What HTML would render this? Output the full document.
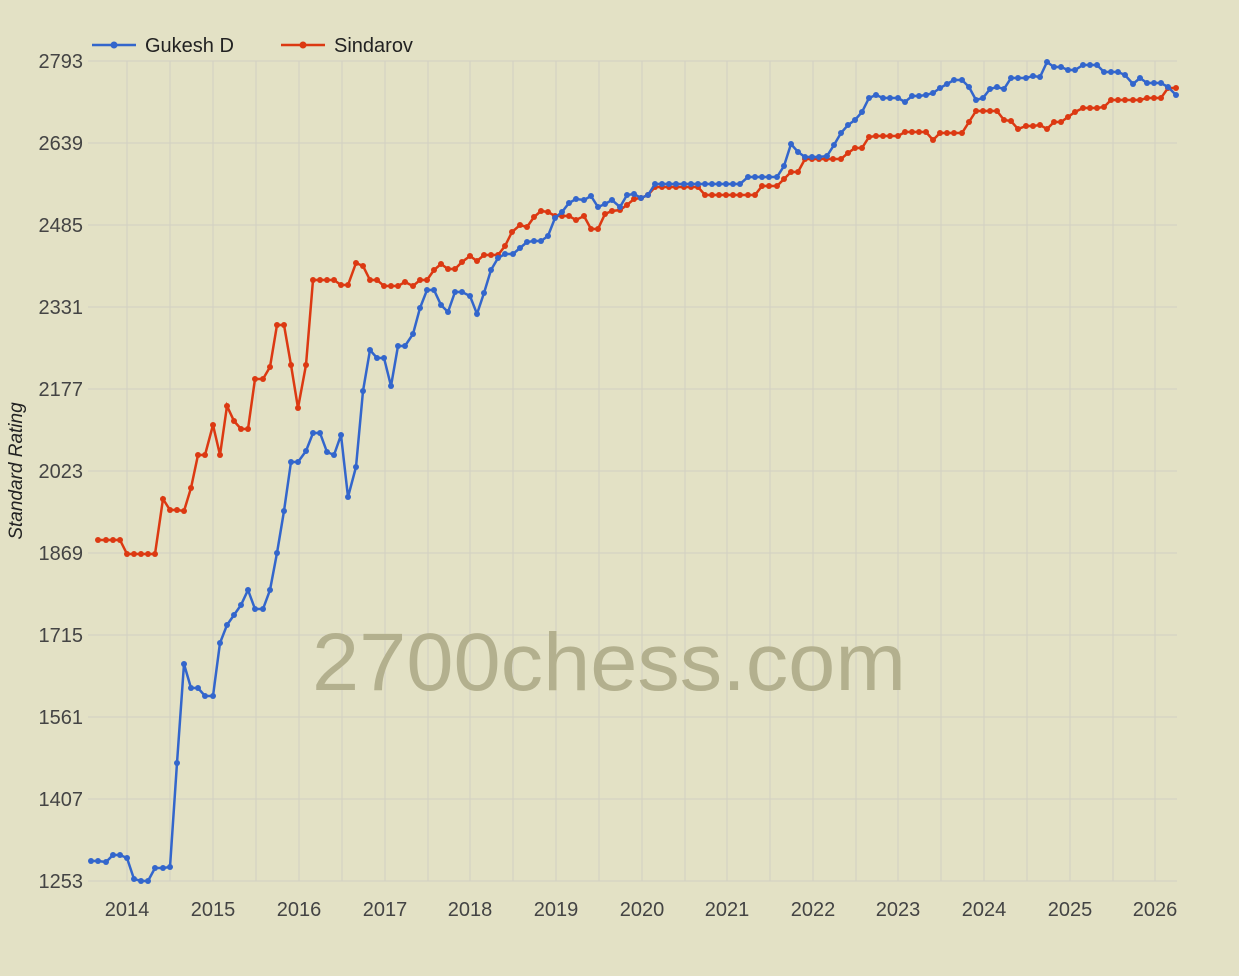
<!DOCTYPE html>
<html><head><style>
html,body{margin:0;padding:0;background:#e3e1c5;}
svg{display:block;font-family:"Liberation Sans",sans-serif;}
</style></head><body>
<svg width="1239" height="976" viewBox="0 0 1239 976">
<rect width="1239" height="976" fill="#e3e1c5"/>
<defs>
<marker id="mb" markerWidth="6" markerHeight="6" refX="3" refY="3" markerUnits="userSpaceOnUse"><circle cx="3" cy="3" r="3" fill="#3366cc"/></marker>
<marker id="mr" markerWidth="6" markerHeight="6" refX="3" refY="3" markerUnits="userSpaceOnUse"><circle cx="3" cy="3" r="3" fill="#dc3912"/></marker>
</defs>
<g stroke="#d2d0c2" stroke-width="1">
<line x1="88" y1="61" x2="1177" y2="61"/><line x1="88" y1="143" x2="1177" y2="143"/><line x1="88" y1="225" x2="1177" y2="225"/><line x1="88" y1="307" x2="1177" y2="307"/><line x1="88" y1="389" x2="1177" y2="389"/><line x1="88" y1="471" x2="1177" y2="471"/><line x1="88" y1="553" x2="1177" y2="553"/><line x1="88" y1="635" x2="1177" y2="635"/><line x1="88" y1="717" x2="1177" y2="717"/><line x1="88" y1="799" x2="1177" y2="799"/><line x1="88" y1="881" x2="1177" y2="881"/>
<line x1="127" y1="61" x2="127" y2="881"/><line x1="170" y1="61" x2="170" y2="881"/><line x1="213" y1="61" x2="213" y2="881"/><line x1="256" y1="61" x2="256" y2="881"/><line x1="299" y1="61" x2="299" y2="881"/><line x1="342" y1="61" x2="342" y2="881"/><line x1="385" y1="61" x2="385" y2="881"/><line x1="428" y1="61" x2="428" y2="881"/><line x1="470" y1="61" x2="470" y2="881"/><line x1="513" y1="61" x2="513" y2="881"/><line x1="556" y1="61" x2="556" y2="881"/><line x1="599" y1="61" x2="599" y2="881"/><line x1="642" y1="61" x2="642" y2="881"/><line x1="685" y1="61" x2="685" y2="881"/><line x1="727" y1="61" x2="727" y2="881"/><line x1="770" y1="61" x2="770" y2="881"/><line x1="813" y1="61" x2="813" y2="881"/><line x1="856" y1="61" x2="856" y2="881"/><line x1="898" y1="61" x2="898" y2="881"/><line x1="941" y1="61" x2="941" y2="881"/><line x1="984" y1="61" x2="984" y2="881"/><line x1="1027" y1="61" x2="1027" y2="881"/><line x1="1070" y1="61" x2="1070" y2="881"/><line x1="1113" y1="61" x2="1113" y2="881"/><line x1="1155" y1="61" x2="1155" y2="881"/>
</g>
<text x="312" y="690" font-size="82" fill="#b3b08e" textLength="594" lengthAdjust="spacingAndGlyphs">2700chess.com</text>
<g font-size="20" fill="#444" text-anchor="end">
<text x="83" y="68">2793</text><text x="83" y="150">2639</text><text x="83" y="232">2485</text><text x="83" y="314">2331</text><text x="83" y="396">2177</text><text x="83" y="478">2023</text><text x="83" y="560">1869</text><text x="83" y="642">1715</text><text x="83" y="724">1561</text><text x="83" y="806">1407</text><text x="83" y="888">1253</text>
</g>
<g font-size="20" fill="#444" text-anchor="middle">
<text x="127" y="916">2014</text><text x="213" y="916">2015</text><text x="299" y="916">2016</text><text x="385" y="916">2017</text><text x="470" y="916">2018</text><text x="556" y="916">2019</text><text x="642" y="916">2020</text><text x="727" y="916">2021</text><text x="813" y="916">2022</text><text x="898" y="916">2023</text><text x="984" y="916">2024</text><text x="1070" y="916">2025</text><text x="1155" y="916">2026</text>
</g>
<text transform="translate(22,471) rotate(-90)" font-size="19" font-style="italic" fill="#222" text-anchor="middle">Standard Rating</text>
<polyline fill="none" stroke="#dc3912" stroke-width="2.5" marker-start="url(#mr)" marker-mid="url(#mr)" marker-end="url(#mr)" points="98,540 106,540 113,540 120,540 127,554 134,554 141,554 148,554 155,554 163,499 170,510 177,510 184,511 191,488 198,455 205,455 213,425 220,455 227,406 234,421 241,429 248,429 255,379 263,379 270,367 277,325 284,325 291,365 298,408 306,365 313,280 320,280 327,280 334,280 341,285 348,285 356,263 363,266 370,280 377,280 384,286 391,286 398,286 405,282 413,286 420,280 427,280 434,270 441,264 448,269 455,269 462,262 470,256 477,261 484,255 491,255 498,255 505,246 512,232 520,225 527,227 534,217 541,211 548,212 555,216 562,216 569,216 576,220 584,216 591,229 598,229 605,214 612,211 620,210 627,205 634,199 641,198 648,195 655,187 662,187 669,187 676,187 684,187 691,187 698,187 705,195 712,195 719,195 726,195 733,195 740,195 748,195 755,195 762,186 769,186 777,186 784,179 791,172 798,172 805,159 812,159 819,159 826,159 833,159 841,159 848,153 855,148 862,148 869,137 876,136 883,136 890,136 898,136 905,132 912,132 919,132 926,132 933,140 940,133 947,133 954,133 962,133 969,122 976,111 983,111 990,111 997,111 1004,120 1011,121 1018,129 1026,126 1033,126 1040,125 1047,129 1054,122 1061,122 1068,117 1075,112 1083,108 1090,108 1097,108 1104,107 1111,100 1118,100 1125,100 1133,100 1140,100 1147,98 1154,98 1161,98 1168,88 1176,88"/>
<polyline fill="none" stroke="#3366cc" stroke-width="2.5" marker-start="url(#mb)" marker-mid="url(#mb)" marker-end="url(#mb)" points="91,861 98,861 106,862 113,855 120,855 127,858 134,879 141,881 148,881 155,868 163,868 170,867 177,763 184,664 191,688 198,688 205,696 213,696 220,643 227,625 234,615 241,605 248,590 255,609 263,609 270,590 277,553 284,511 291,462 298,462 306,451 313,433 320,433 327,452 334,455 341,435 348,497 356,467 363,391 370,350 377,358 384,358 391,386 398,346 405,346 413,334 420,308 427,290 434,290 441,305 448,312 455,292 462,292 470,296 477,314 484,293 491,270 498,258 505,254 513,254 520,248 527,242 534,241 541,241 548,236 555,218 562,212 569,203 576,199 584,200 591,196 598,207 605,204 612,200 620,207 627,195 634,194 641,198 648,195 655,184 662,184 669,184 676,184 684,184 691,184 698,184 705,184 712,184 719,184 726,184 733,184 740,184 748,177 755,177 762,177 769,177 777,177 784,166 791,144 798,152 805,157 812,157 819,157 827,156 834,145 841,133 848,125 855,120 862,112 869,98 876,95 883,98 890,98 898,98 905,102 912,96 919,96 926,95 933,93 940,88 947,84 954,80 962,80 969,87 976,100 983,98 990,89 997,87 1004,89 1011,78 1018,78 1026,78 1033,76 1040,77 1047,62 1054,67 1061,67 1068,70 1075,70 1083,65 1090,65 1097,65 1104,72 1111,72 1118,72 1125,75 1133,84 1140,78 1147,83 1154,83 1161,83 1168,87 1176,95"/>
<line x1="92" y1="45" x2="136" y2="45" stroke="#3366cc" stroke-width="2.5"/><circle cx="114" cy="45" r="3.5" fill="#3366cc"/>
<text x="145" y="52" font-size="20" fill="#222">Gukesh D</text>
<line x1="281" y1="45" x2="325" y2="45" stroke="#dc3912" stroke-width="2.5"/><circle cx="303" cy="45" r="3.5" fill="#dc3912"/>
<text x="334" y="52" font-size="20" fill="#222">Sindarov</text>
</svg>
</body></html>
